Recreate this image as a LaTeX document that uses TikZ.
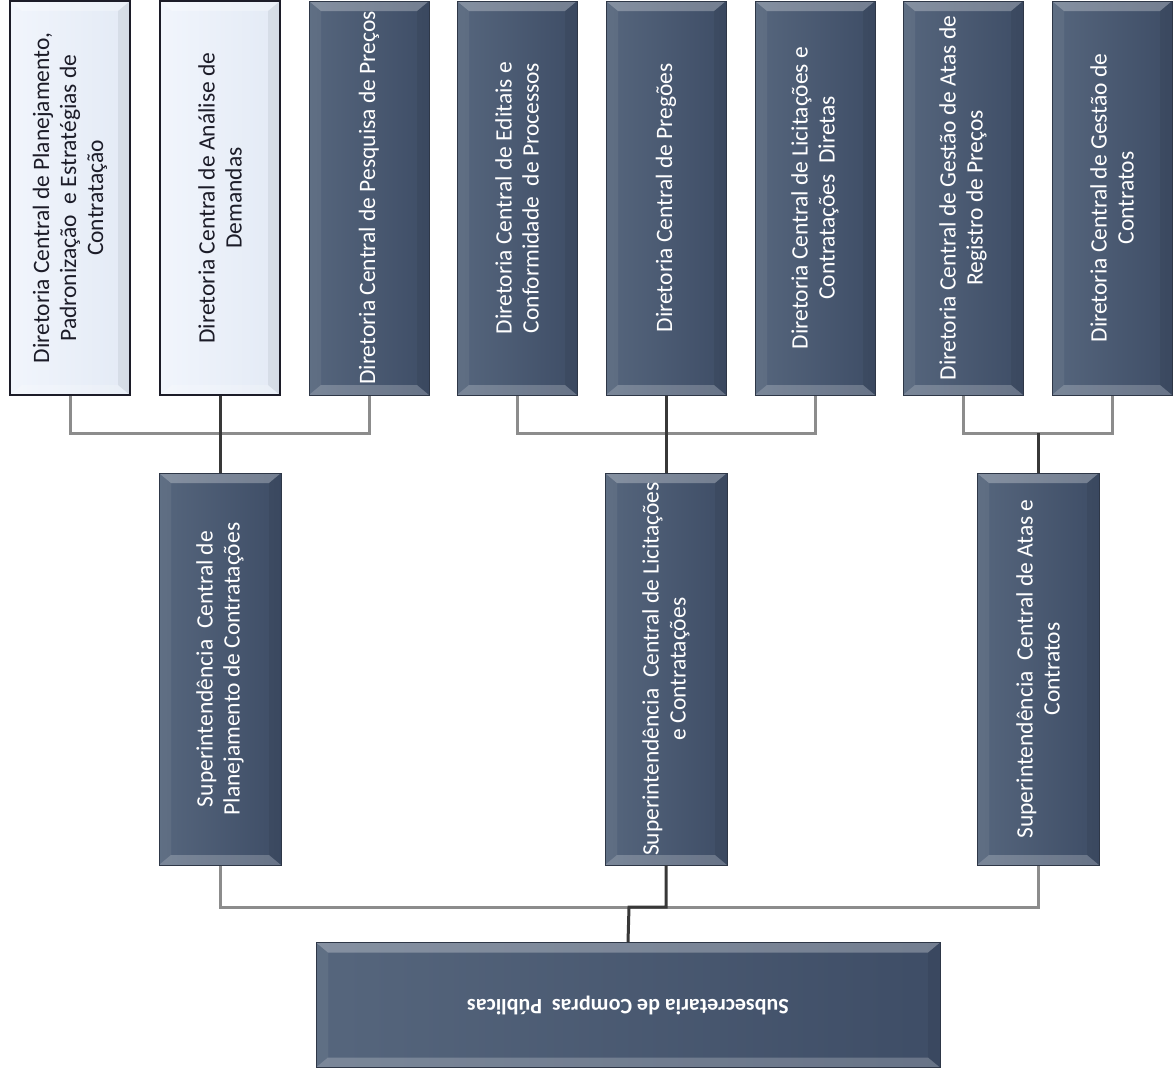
\documentclass[tikz,border=0pt]{standalone}
\usepackage{fontspec}
\setmainfont{Carlito}
\usepackage{xcolor}
\usepackage{tikz}
\definecolor{slatelight}{HTML}{56667D}
\definecolor{slatedark}{HTML}{3E4D66}
\definecolor{slateline}{HTML}{2E3747}
\definecolor{palelight}{HTML}{F1F5FC}
\definecolor{paledark}{HTML}{E3EAF5}
\definecolor{inkdark}{HTML}{1C1C28}
\definecolor{linkgray}{HTML}{8C8C8C}
\definecolor{trunkgray}{HTML}{383838}

\begin{document}
\begin{tikzpicture}[x=1pt, y=-1pt,
		bevel/.style={path picture={
			\fill[white, opacity=.28] (path picture bounding box.north west) -- (path picture bounding box.north east) -- ([shift={(-12pt,-10pt)}]path picture bounding box.north east) -- ([shift={(12pt,-10pt)}]path picture bounding box.north west) -- cycle;
			\fill[white, opacity=.22] (path picture bounding box.south west) -- (path picture bounding box.south east) -- ([shift={(-12pt,10pt)}]path picture bounding box.south east) -- ([shift={(12pt,10pt)}]path picture bounding box.south west) -- cycle;
			\fill[white, opacity=.06] (path picture bounding box.north west) -- ([shift={(12pt,-10pt)}]path picture bounding box.north west) -- ([shift={(12pt,10pt)}]path picture bounding box.south west) -- (path picture bounding box.south west) -- cycle;
			\fill[black, opacity=.06] (path picture bounding box.north east) -- ([shift={(-12pt,-10pt)}]path picture bounding box.north east) -- ([shift={(-12pt,10pt)}]path picture bounding box.south east) -- (path picture bounding box.south east) -- cycle;
		}},
		darkbox/.style={draw=slateline, line width=1pt, left color=slatelight, right color=slatedark, bevel, inner sep=0pt},
		palebox/.style={draw=inkdark, line width=1.6pt, left color=palelight, right color=paledark, bevel, inner sep=0pt},
		topbox/.style={minimum width=120pt, minimum height=394pt},
		midbox/.style={minimum width=122pt, minimum height=392pt},
		boxtext/.style={rotate=90, align=center, text=white, font=\fontsize{23.5}{27}\selectfont},
		paletext/.style={boxtext, text=inkdark},
		link/.style={draw=linkgray, line width=3pt},
		trunk/.style={draw=trunkgray, line width=3pt}]
	\useasboundingbox (0,0) rectangle (1175,1080);

	% diretorias
	\node[topbox, palebox] (d1) at (70,198) {};
	\node[paletext] (t1) at (d1) {Diretoria Central de Planejamento,\\Padronização~ e Estratégias de\\Contratação};
	\node[topbox, palebox] (d2) at (220,198) {};
	\node[paletext] (t2) at (d2) {Diretoria Central de Análise de\\Demandas};
	\foreach \n/\x/\txt in {3/369/{Diretoria Central de Pesquisa de Preços},
			4/517/{Diretoria Central de Editais e\\Conformidade~ de Processos},
			5/666/{Diretoria Central de Pregões},
			6/815/{Diretoria Central de Licitações e\\Contratações~ Diretas},
			7/963/{Diretoria Central de Gestão de Atas de\\Registro de Preços},
			8/1112/{Diretoria Central de Gestão de\\Contratos}}{
		\node[topbox, darkbox] (d\n) at (\x,198) {};
		\node[boxtext] (t\n) at (d\n) {\txt};
	}

	% superintendencias
	\node[midbox, darkbox] (sA) at (220,669) {};
	\node[boxtext] (tA) at (sA) {Superintendência~ Central de\\Planejamento de Contratações};
	\node[midbox, darkbox] (sB) at (666,669) {};
	\node[boxtext] (tB) at (sB) {Superintendência~ Central de Licitações\\e Contratações};
	\node[midbox, darkbox] (sC) at (1038,669) {};
	\node[boxtext] (tC) at (sC) {Superintendência~ Central de Atas e\\Contratos};

	% subsecretaria
	\node[darkbox, minimum width=624pt, minimum height=125pt] (sub) at (628,1005) {};
	\node[rotate=180, text=white, font=\bfseries\fontsize{22}{26}\selectfont] (tsub) at (sub) {Subsecretaria de Compras~ Públicas};

	% ligacoes
	\coordinate (j1) at (220,433);
	\coordinate (j2) at (666,433);
	\coordinate (j3) at (1038,433);
	\coordinate (j4) at (629,907);
	\draw[link] (d1.south) |- (j1) -| (d3.south);
	\draw[link] (d4.south) |- (j2) -| (d6.south);
	\draw[link] (d7.south) |- (j3) -| (d8.south);
	\draw[link] (sA.south) |- (j4) -| (sC.south);
	\draw[trunk] (d2.south) -- (sA.north);
	\draw[trunk] (d5.south) -- (sB.north);
	\draw[trunk] (j3) -- (sC.north);
	\draw[trunk] (sB.south) |- (j4) -- (sub.north);
\end{tikzpicture}
\end{document}
